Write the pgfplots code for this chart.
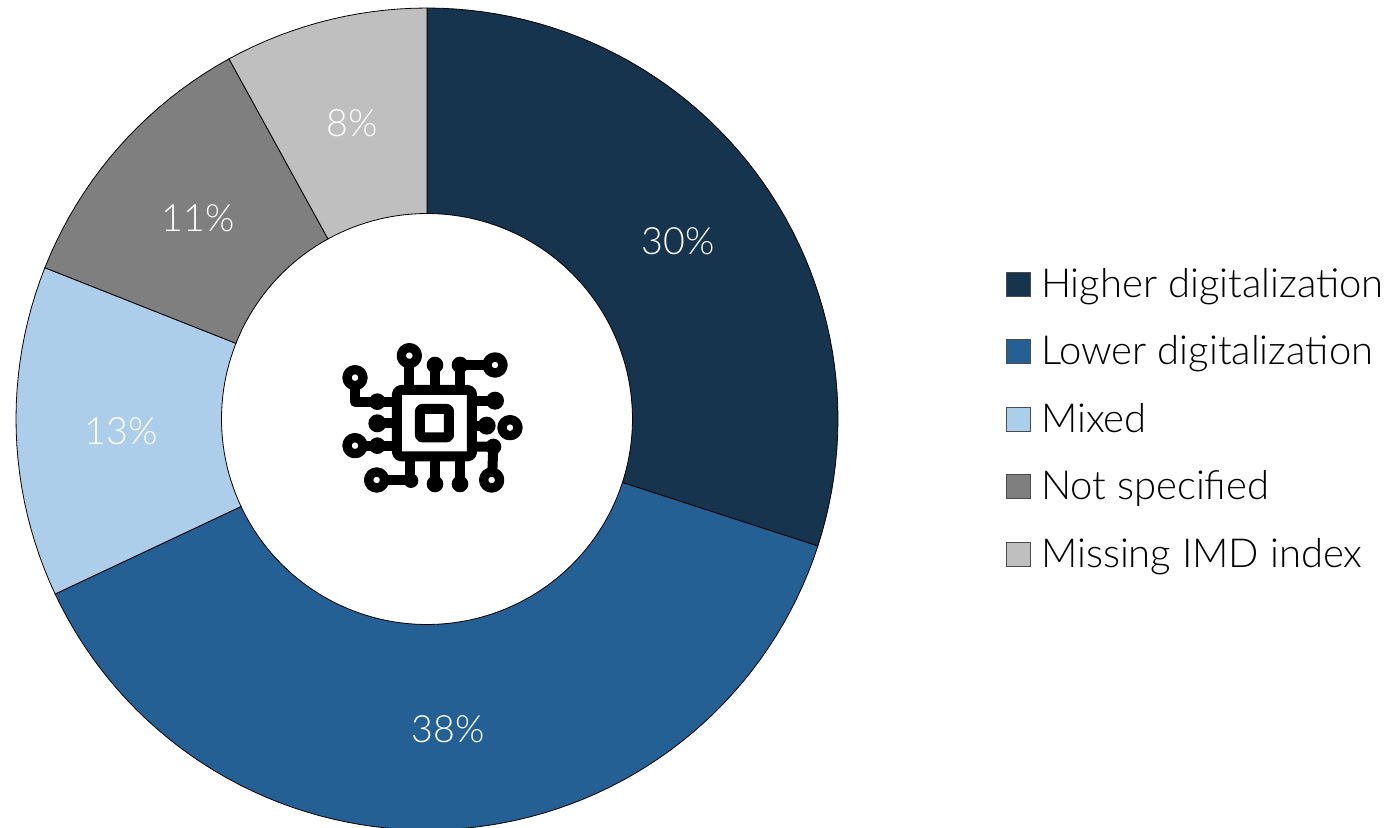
\documentclass[border=0pt]{standalone}
\usepackage{pgfplots}
\usepackage{pgfplotstable}
\usepackage{fontspec}
\usepgfplotslibrary{polar}
\pgfplotsset{compat=1.18}
\setmainfont{Lato Light}

\definecolor{higher}{HTML}{17344F}
\definecolor{lower}{HTML}{256094}
\definecolor{mixed}{HTML}{ADCEEA}
\definecolor{unspecified}{HTML}{7F7F7F}
\definecolor{missing}{HTML}{BFBFBF}

\pgfplotstableread{
value colour name
30 higher {Higher digitalization}
38 lower {Lower digitalization}
13 mixed {Mixed}
11 unspecified {Not specified}
8 missing {Missing IMD index}
}\slices

\def\cum{0}
% One ring segment: polygon along the outer rim and back along the inner rim
\newcommand\ringslice[1]{%
  \pgfplotstablegetelem{#1}{value}\of\slices \let\val\pgfplotsretval
  \pgfplotstablegetelem{#1}{colour}\of\slices \let\col\pgfplotsretval
  \pgfplotstablegetelem{#1}{name}\of\slices \let\nam\pgfplotsretval
  \pgfmathsetmacro\startA{90-3.6*\cum}%
  \pgfmathsetmacro\sweep{3.6*\val}%
  \pgfmathsetmacro\midA{\startA-\sweep/2}%
  \pgfmathtruncatemacro\nsteps{ceil(\sweep/2)}%
  \def\pts{}%
  \pgfplotsforeachungrouped \k in {0,...,\nsteps}{%
    \pgfmathsetmacro\a{\startA-\sweep*\k/\nsteps}%
    \edef\pts{\pts (\a,411)}%
  }%
  \pgfplotsforeachungrouped \k in {\nsteps,...,0}{%
    \pgfmathsetmacro\a{\startA-\sweep*\k/\nsteps}%
    \edef\pts{\pts (\a,205.5)}%
  }%
  \edef\cmd{%
    \noexpand\addplot[fill=\col,draw=black,line width=0.4pt] coordinates {\pts} --cycle;
    \noexpand\addlegendentry{\nam}
    \noexpand\node[text=white,xshift=1pt,yshift=-1.5pt,font=\noexpand\fontsize{18.8}{22}\noexpand\selectfont] at (axis cs:\midA,308) {\val\noexpand\%};
  }%
  \cmd
  \pgfmathsetmacro\cum{\cum+\val}%
}

\begin{document}
\begin{tikzpicture}
\path[use as bounding box] (0,0) rectangle (694pt,413.5pt);
\begin{polaraxis}[
  at={(213.5pt,204pt)}, anchor=center,
  scale only axis, width=411pt, height=411pt,
  xmin=0, xmax=360, ymin=0, ymax=411,
  hide axis, clip=false,
  legend image code/.code={\draw[#1,draw=black!70,line width=0.5pt] (0pt,-6pt) rectangle (12pt,6pt);},
  legend cell align=left,
  legend style={
    draw=none, fill=none, inner sep=0pt, outer sep=0pt,
    at={(axis description cs:1.2045,0.5)}, anchor=west,
    row sep=14.75pt, column sep=0pt,
    font=\fontsize{20}{24}\selectfont,
    nodes={inner sep=0pt, outer sep=0pt, text=black, text height=16pt, text depth=3pt},
    /tikz/every odd column/.append style={column sep=5pt},
  },
]
\ringslice{0}
\ringslice{1}
\ringslice{2}
\ringslice{3}
\ringslice{4}
\end{polaraxis}

% Circuit-board chip emblem in the centre of the ring
\begin{scope}[shift={(165pt,246pt)}, x=1pt/6, y=-1pt/6, line width=5pt, black, line cap=round, line join=round]
  \draw[rounded corners=2pt] (201,165) rectangle (426,364);
  \draw[rounded corners=1pt, line width=5pt] (270,222) rectangle (357,307);
  % rings
  \foreach \p in {(238,62),(495,90),(75,128),(75,332),(540,278),(485,435),(140,435)}
    \draw[line width=4.67pt] \p circle (24);
  % traces
  \draw (238,86) -- (238,150);
  \draw (315,90) -- (315,150);
  \draw (390,150) -- (390,90) -- (460,90);
  \draw (75,152) -- (75,200) -- (187,200);
  \draw (142,265) -- (187,265);
  \draw (99,332) -- (187,332);
  \draw (440,197) -- (495,197);
  \draw (440,272) -- (470,272);
  \draw (440,335) -- (490,335) -- (487,410);
  \draw (164,435) -- (245,435);
  \draw (240,378) -- (240,435);
  \draw (315,378) -- (315,447);
  \draw (390,378) -- (390,447);
  % pads
  \foreach \p/\r in {(315,90)/25,(390,90)/25,(142,200)/25,(142,265)/27,(142,332)/25,(495,197)/27,(470,272)/27,(490,335)/24,(243,437)/22,(315,447)/25,(390,447)/25}
    \fill \p circle (\r);
\end{scope}
\end{tikzpicture}
\end{document}
